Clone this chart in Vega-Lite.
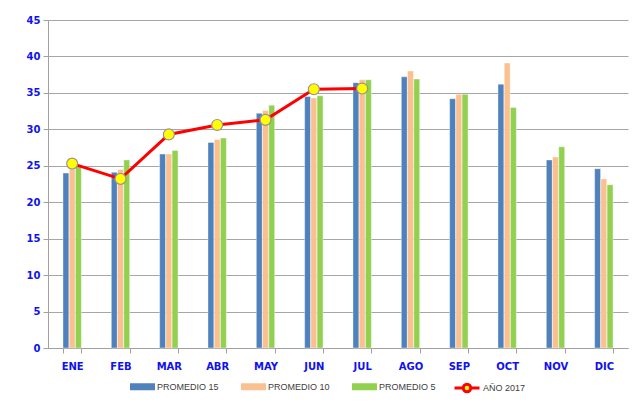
{
  "$schema": "https://vega.github.io/schema/vega-lite/v6.json",
  "width": 580,
  "height": 328,
  "autosize": {"type": "none"},
  "padding": {"left": 48, "top": 20, "right": 14, "bottom": 62},
  "background": "white",
  "config": {
    "view": {"stroke": null},
    "axis": {"labelFont": "DejaVu Sans", "labelFontWeight": "bold", "labelFontSize": 10, "labelColor": "#1010f0", "domainColor": "#a0a0a0", "tickColor": "#a0a0a0", "gridColor": "#a6a6a6", "title": null},
    "legend": {"labelFont": "Liberation Sans", "labelFontSize": 9, "labelColor": "#404040"}
  },
  "datasets": {
    "bars": [
      {"mes": "ENE", "serie": "PROMEDIO 15", "valor": 24.0},
      {"mes": "ENE", "serie": "PROMEDIO 10", "valor": 24.5},
      {"mes": "ENE", "serie": "PROMEDIO 5", "valor": 25.0},
      {"mes": "FEB", "serie": "PROMEDIO 15", "valor": 24.1},
      {"mes": "FEB", "serie": "PROMEDIO 10", "valor": 24.5},
      {"mes": "FEB", "serie": "PROMEDIO 5", "valor": 25.8},
      {"mes": "MAR", "serie": "PROMEDIO 15", "valor": 26.6},
      {"mes": "MAR", "serie": "PROMEDIO 10", "valor": 26.6},
      {"mes": "MAR", "serie": "PROMEDIO 5", "valor": 27.1},
      {"mes": "ABR", "serie": "PROMEDIO 15", "valor": 28.2},
      {"mes": "ABR", "serie": "PROMEDIO 10", "valor": 28.6},
      {"mes": "ABR", "serie": "PROMEDIO 5", "valor": 28.8},
      {"mes": "MAY", "serie": "PROMEDIO 15", "valor": 32.2},
      {"mes": "MAY", "serie": "PROMEDIO 10", "valor": 32.6},
      {"mes": "MAY", "serie": "PROMEDIO 5", "valor": 33.3},
      {"mes": "JUN", "serie": "PROMEDIO 15", "valor": 34.5},
      {"mes": "JUN", "serie": "PROMEDIO 10", "valor": 34.3},
      {"mes": "JUN", "serie": "PROMEDIO 5", "valor": 34.6},
      {"mes": "JUL", "serie": "PROMEDIO 15", "valor": 36.4},
      {"mes": "JUL", "serie": "PROMEDIO 10", "valor": 36.8},
      {"mes": "JUL", "serie": "PROMEDIO 5", "valor": 36.8},
      {"mes": "AGO", "serie": "PROMEDIO 15", "valor": 37.2},
      {"mes": "AGO", "serie": "PROMEDIO 10", "valor": 38.0},
      {"mes": "AGO", "serie": "PROMEDIO 5", "valor": 36.9},
      {"mes": "SEP", "serie": "PROMEDIO 15", "valor": 34.2},
      {"mes": "SEP", "serie": "PROMEDIO 10", "valor": 34.8},
      {"mes": "SEP", "serie": "PROMEDIO 5", "valor": 34.8},
      {"mes": "OCT", "serie": "PROMEDIO 15", "valor": 36.2},
      {"mes": "OCT", "serie": "PROMEDIO 10", "valor": 39.1},
      {"mes": "OCT", "serie": "PROMEDIO 5", "valor": 33.0},
      {"mes": "NOV", "serie": "PROMEDIO 15", "valor": 25.8},
      {"mes": "NOV", "serie": "PROMEDIO 10", "valor": 26.2},
      {"mes": "NOV", "serie": "PROMEDIO 5", "valor": 27.6},
      {"mes": "DIC", "serie": "PROMEDIO 15", "valor": 24.6},
      {"mes": "DIC", "serie": "PROMEDIO 10", "valor": 23.2},
      {"mes": "DIC", "serie": "PROMEDIO 5", "valor": 22.4}
    ],
    "linea": [
      {"mes": "ENE", "serie": "AÑO 2017", "valor": 25.3},
      {"mes": "FEB", "serie": "AÑO 2017", "valor": 23.2},
      {"mes": "MAR", "serie": "AÑO 2017", "valor": 29.3},
      {"mes": "ABR", "serie": "AÑO 2017", "valor": 30.6},
      {"mes": "MAY", "serie": "AÑO 2017", "valor": 31.3},
      {"mes": "JUN", "serie": "AÑO 2017", "valor": 35.5},
      {"mes": "JUL", "serie": "AÑO 2017", "valor": 35.6}
    ]
  },
  "encoding": {
    "x": {
      "field": "mes", "type": "nominal",
      "sort": ["ENE","FEB","MAR","ABR","MAY","JUN","JUL","AGO","SEP","OCT","NOV","DIC"],
      "scale": {"domain": ["ENE","FEB","MAR","ABR","MAY","JUN","JUL","AGO","SEP","OCT","NOV","DIC"], "paddingInner": 0.62, "paddingOuter": 0.31},
      "axis": {"labelAngle": 0, "tickBand": "extent", "tickSize": 5, "labelPadding": 8, "grid": false}
    },
    "y": {
      "field": "valor", "type": "quantitative",
      "scale": {"domain": [0, 45], "nice": false},
      "axis": {"values": [0,5,10,15,20,25,30,35,40,45], "tickSize": 5, "labelPadding": 3, "grid": true}
    }
  },
  "layer": [
    {
      "data": {"name": "bars"},
      "mark": {"type": "bar", "stroke": "#ffffff", "strokeWidth": 0.4},
      "encoding": {
        "xOffset": {"field": "serie", "type": "nominal", "sort": ["PROMEDIO 15","PROMEDIO 10","PROMEDIO 5"], "scale": {"paddingInner": 0.05, "paddingOuter": 0}},
        "color": {
          "field": "serie", "type": "nominal",
          "scale": {"domain": ["PROMEDIO 15","PROMEDIO 10","PROMEDIO 5"], "range": ["#4f81bd","#fac090","#92d050"]},
          "legend": {"title": null, "orient": "none", "legendX": 82, "legendY": 354, "direction": "horizontal", "symbolType": "M-1,-0.28H1V0.28H-1Z", "symbolSize": 625, "symbolStrokeWidth": 0, "labelOffset": 2, "columnPadding": 22, "gridAlign": "all"}
        }
      }
    },
    {
      "data": {"name": "linea"},
      "mark": {"type": "line", "strokeWidth": 3},
      "encoding": {
        "stroke": {
          "field": "serie", "type": "nominal",
          "scale": {"domain": ["AÑO 2017"], "range": ["#ff0000"]},
          "legend": {"title": null, "orient": "none", "legendX": 405, "legendY": 354, "symbolType": "M-1,0H-0.3M0.3,0H1M0.3,0A0.3,0.3,0,1,1,-0.3,0A0.3,0.3,0,1,1,0.3,0", "symbolSize": 625, "symbolStrokeWidth": 3, "symbolFillColor": "#ffff00", "labelOffset": 2}
        }
      }
    },
    {
      "data": {"name": "linea"},
      "mark": {"type": "point", "filled": true, "fill": "#ffff00", "stroke": "#a09090", "strokeWidth": 1.2, "opacity": 1, "size": 120},
      "encoding": {}
    }
  ]
}
